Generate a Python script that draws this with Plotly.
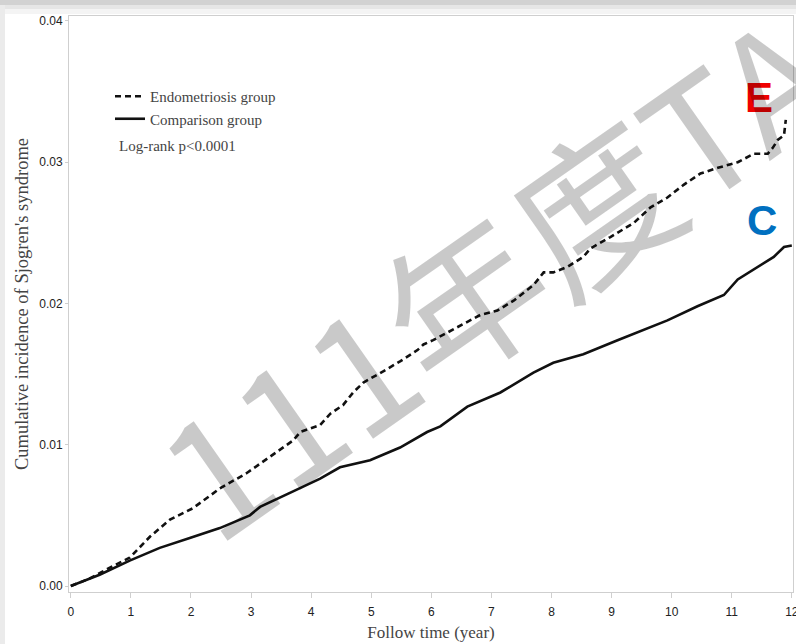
import plotly.graph_objects as go

# Follow-up time (years) and cumulative incidence for each cohort
endo_time = [0, 0.3, 0.65, 0.98, 1.32, 1.65, 2.03, 2.48, 2.93, 3.37, 3.7, 3.82,
             4.15, 4.32, 4.53, 4.7, 4.87, 5.2, 5.48, 5.77, 5.87, 6.03, 6.43, 6.82,
             7.1, 7.37, 7.7, 7.87, 8.03, 8.27, 8.53, 8.65, 8.98, 9.37, 9.65, 9.93,
             10.2, 10.48, 10.77, 10.93, 11.1, 11.37, 11.6, 11.68, 11.77, 11.87, 11.9]
endo_cuminc = [0, 0.0005, 0.0013, 0.0020, 0.0035, 0.0047, 0.0055, 0.0069, 0.0080,
               0.0093, 0.0103, 0.0109, 0.0114, 0.0122, 0.0128, 0.0137, 0.0144,
               0.0152, 0.0159, 0.0167, 0.0171, 0.0174, 0.0183, 0.0192, 0.0195,
               0.0202, 0.0213, 0.0222, 0.0222, 0.0226, 0.0233, 0.0239, 0.0247,
               0.0257, 0.0268, 0.0275, 0.0284, 0.0292, 0.0296, 0.0298, 0.0300,
               0.0306, 0.0306, 0.0310, 0.0316, 0.0319, 0.0330]

comp_time = [0, 0.48, 0.98, 1.48, 1.98, 2.27, 2.48, 2.98, 3.15, 3.7, 4.15, 4.48,
             4.98, 5.48, 5.93, 6.15, 6.6, 7.15, 7.7, 8.03, 8.53, 9.1, 9.93, 10.43,
             10.87, 11.1, 11.43, 11.7, 11.87, 12.0]
comp_cuminc = [0, 0.0008, 0.0018, 0.0027, 0.0034, 0.0038, 0.0041, 0.0050, 0.0056,
               0.0067, 0.0076, 0.0084, 0.0089, 0.0098, 0.0109, 0.0113, 0.0127,
               0.0137, 0.0151, 0.0158, 0.0164, 0.0174, 0.0188, 0.0198, 0.0206,
               0.0217, 0.0226, 0.0233, 0.0240, 0.0241]

x_ticks = list(range(0, 13))
y_ticks = [0.00, 0.01, 0.02, 0.03, 0.04]
y_tick_text = ["0.00", "0.01", "0.02", "0.03", "0.04"]

SERIF = "Liberation Serif, Times New Roman, serif"
SANS = "Liberation Sans, Arial, sans-serif"
AXIS_GREY = "#cfcfcf"

fig = go.Figure()
fig.add_trace(go.Scatter(
    x=endo_time, y=endo_cuminc, mode="lines", name="Endometriosis group",
    legendgroup="endo",
    line=dict(color="#111111", width=2.6, dash="6px,4px"),
))
fig.add_trace(go.Scatter(
    x=comp_time, y=comp_cuminc, mode="lines", name="Comparison group",
    legendgroup="comp",
    line=dict(color="#111111", width=2.6),
))

fig.update_xaxes(
    range=[-0.03, 12.02], tickvals=x_ticks, ticks="outside", ticklen=5,
    tickcolor=AXIS_GREY, showline=True, linecolor=AXIS_GREY, linewidth=1,
    mirror=True, showgrid=False, zeroline=False, ticklabeloverflow="allow",
    automargin=False, ticklabelstandoff=4,
    tickfont=dict(family=SANS, size=12, color="#222222"),
    title=dict(text="Follow time (year)", font=dict(family=SERIF, size=17, color="#444444"),
               standoff=7),
)
fig.update_yaxes(
    range=[-0.000425, 0.04035], tickvals=y_ticks, ticktext=y_tick_text,
    ticks="outside", ticklen=3, tickcolor=AXIS_GREY, showline=True,
    linecolor=AXIS_GREY, linewidth=1, mirror=True, showgrid=False, zeroline=False,
    automargin=False,
    tickfont=dict(family=SANS, size=12, color="#222222"),
    title=dict(text="Cumulative incidence of Sjogren's syndrome",
               font=dict(family=SERIF, size=18.5, color="#444444"), standoff=5),
)

annotations = [
    dict(text="Log-rank p<0.0001", xref="paper", yref="paper",
         x=(117 - 69) / 724, y=(592 - 146) / 576, xanchor="left", yanchor="middle",
         showarrow=False, font=dict(family=SERIF, size=15, color="#444444")),
    dict(text="<b>E</b>", x=11.45, y=0.03455, xref="x", yref="y", showarrow=False,
         font=dict(family=SANS, size=42, color="#f00000")),
    dict(text="<b>C</b>", x=11.5, y=0.02584, xref="x", yref="y", showarrow=False,
         font=dict(family=SANS, size=42, color="#0070c0")),
    # translucent watermark across the plot
    dict(text="111年度TA", xref="paper", yref="paper",
         x=(492 - 69) / 724, y=(592 - 270) / 576, xanchor="center", yanchor="middle",
         textangle=-35, showarrow=False,
         font=dict(family="Noto Sans CJK TC", size=160, color="rgba(0,0,0,0.21)")),
]

# light grey page edges
shapes = [
    dict(type="rect", xref="paper", yref="paper", x0=-1, x1=2,
         y0=1 + 11 / 576, y1=1 + 16 / 576, fillcolor="#d2d2d2", line=dict(width=0),
         layer="below"),
    dict(type="rect", xref="paper", yref="paper", x0=-1, x1=2,
         y0=1 + 7 / 576, y1=1 + 11 / 576, fillcolor="#e6e6e6", line=dict(width=0),
         layer="below"),
    dict(type="rect", xref="paper", yref="paper", x0=-1, x1=2,
         y0=1 + 2 / 576, y1=1 + 7 / 576, fillcolor="#f4f4f4", line=dict(width=0),
         layer="below"),
    dict(type="rect", xref="paper", yref="paper", x0=-69 / 724, x1=-64 / 724,
         y0=-1, y1=1 + 11 / 576, fillcolor="#ebebeb", line=dict(width=0),
         layer="below"),
]

fig.update_layout(
    width=796, height=644,
    margin=dict(l=69, r=3, t=16, b=52),
    paper_bgcolor="white", plot_bgcolor="white",
    showlegend=True,
    legend=dict(x=(110 - 69) / 724, y=(592 - 80) / 576, xanchor="left", yanchor="top",
                bgcolor="rgba(0,0,0,0)", borderwidth=0, itemwidth=30,
                tracegroupgap=1, traceorder="normal",
                font=dict(family=SERIF, size=15, color="#444444")),
    annotations=annotations,
    shapes=shapes,
)

fig.write_html("out.html")
